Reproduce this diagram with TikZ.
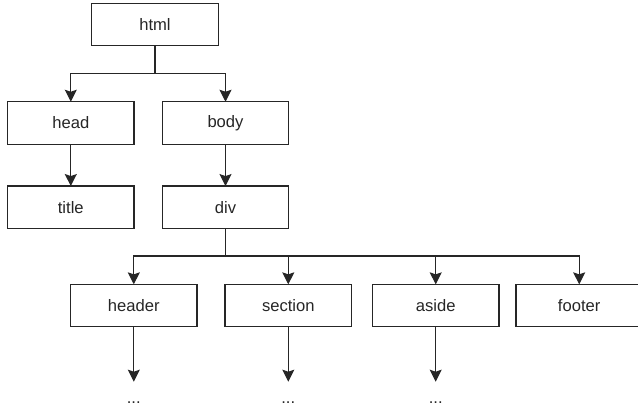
\documentclass[tikz,border=0pt]{standalone}
\usepackage{fontspec}
\setmainfont{Liberation Sans}
\usetikzlibrary{arrows.meta}
\begin{document}
\begin{tikzpicture}[x=1pt,y=-1pt,
  box/.style={draw=black!85,line width=1.2pt,minimum width=126.5pt,minimum height=42.5pt,inner sep=0pt,outer sep=0pt,font=\fontsize{16.6}{18}\selectfont,text=black!85},
  conn/.style={draw=black!85,line width=1.2pt,-{Stealth[length=12pt,width=12pt,inset=2pt]}},
  dots/.style={anchor=base,font=\fontsize{16.6}{18}\selectfont,text=black!85,inner sep=0pt}]
\useasboundingbox (0,0) rectangle (638,406);
\begin{scope}
\clip (0,0) rectangle (638,406);
\node[box] (html) at (155,24.5) {html};
\node[box] (head) at (70.8,123) {head};
\node[box] (body) at (225.5,123) {body};
\node[box] (title) at (70.8,207.3) {title};
\node[box] (div) at (225.5,207.3) {div};
\node[box] (header) at (133.8,305.6) {header};
\node[box] (section) at (288.3,305.6) {section};
\node[box] (aside) at (435.7,305.6) {aside};
\node[box] (footer) at (579.2,305.6) {footer};
\coordinate (s1) at (155,73.3);
\coordinate (s2) at (225.5,256);
\draw[conn] (html.south) -- (s1) -| (head.north);
\draw[conn] (s1) -| (body.north);
\draw[conn] (head.south) -- (title.north);
\draw[conn] (body.south) -- (div.north);
\draw[conn] (div.south) -- (s2) -| (header.north);
\draw[conn] (s2) -| (section.north);
\draw[conn] (s2) -| (aside.north);
\draw[conn] (s2) -| (footer.north);
\coordinate (e1) at (133.8,381.7);
\coordinate (e2) at (288.3,381.7);
\coordinate (e3) at (435.7,381.7);
\draw[conn] (header.south) -- (e1);
\draw[conn] (section.south) -- (e2);
\draw[conn] (aside.south) -- (e3);
\node[dots] (d1) at (133.8,403.5) {...};
\node[dots] (d2) at (288.3,403.5) {...};
\node[dots] (d3) at (435.7,403.5) {...};
\end{scope}
\end{tikzpicture}
\end{document}
